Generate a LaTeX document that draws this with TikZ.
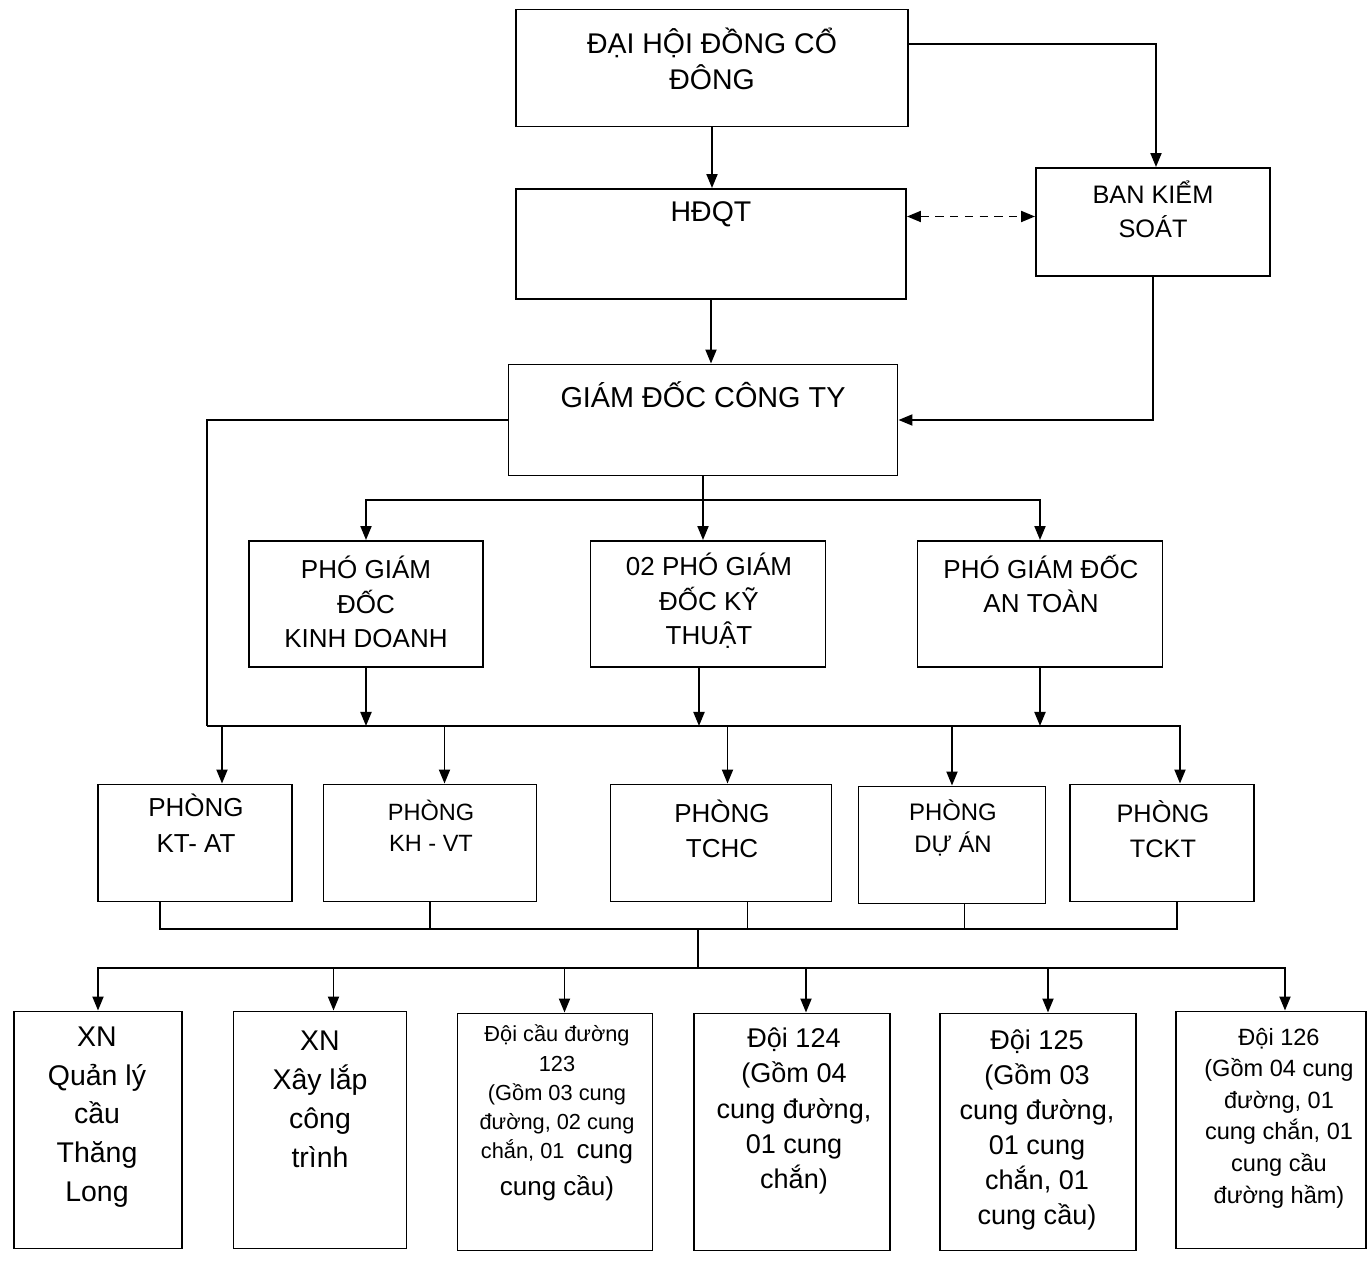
\documentclass[tikz,border=0pt]{standalone}
\usepackage{fontspec}
\setmainfont{Liberation Sans}
\usetikzlibrary{arrows.meta}

\begin{document}
\begin{tikzpicture}[x=0.1mm, y=-0.1mm, line width=0.55pt,
    >={Triangle[length=1.4mm, width=1.1mm]},
    box/.style={draw, inner sep=0pt},
    pgdbox/.style={box, minimum height=1.26cm},
    phongbox/.style={box, minimum height=1.17cm},
    doibox/.style={box, minimum height=2.37cm},
    txt/.style={align=center, inner sep=0pt, font=\fontsize{7.4}{10}\selectfont}]
    \useasboundingbox (0,0) rectangle (1372,1267);

    % cap tren
    \node[box, minimum width=3.92cm, minimum height=1.17cm] (dhdcd) at (712,68) {};
    \node[box, minimum width=3.90cm, minimum height=1.10cm] (hdqt) at (711,244) {};
    \node[box, minimum width=2.34cm, minimum height=1.08cm] (bks) at (1153,222) {};
    \node[box, minimum width=3.89cm, minimum height=1.11cm] (gd) at (703,420) {};

    \node[txt, font=\fontsize{8.1}{10.2}\selectfont] (dhdcdT) at (712,59) {ĐẠI HỘI ĐỒNG CỔ\\ĐÔNG};
    \node[txt, font=\fontsize{8.1}{10.2}\selectfont] (hdqtT) at (711,214) {HĐQT};
    \node[txt, font=\fontsize{7.2}{9.7}\selectfont] (bksT) at (1153,209) {BAN KIỂM\\SOÁT};
    \node[txt, font=\fontsize{8.2}{10.2}\selectfont] (gdT) at (703,395) {GIÁM ĐỐC CÔNG TY};

    % pho giam doc
    \node[pgdbox, minimum width=2.34cm] (pkd) at (366,604) {};
    \node[pgdbox, minimum width=2.35cm] (pkt) at (708,604) {};
    \node[pgdbox, minimum width=2.45cm] (pat) at (1040,604) {};

    \node[txt, font=\fontsize{7.4}{9.8}\selectfont] (pkdT) at (366,602) {PHÓ GIÁM\\ĐỐC\\KINH DOANH};
    \node[txt, font=\fontsize{7.4}{9.8}\selectfont] (pktT) at (709,601) {02 PHÓ GIÁM\\ĐỐC KỸ\\THUẬT};
    \node[txt, font=\fontsize{7.4}{9.8}\selectfont] (patT) at (1041,584) {PHÓ GIÁM ĐỐC\\AN TOÀN};

    % cac phong
    \node[phongbox, minimum width=1.94cm] (ktat) at (195,843) {};
    \node[phongbox, minimum width=2.13cm] (khvt) at (430,843) {};
    \node[phongbox, minimum width=2.21cm] (tchc) at (721,843) {};
    \node[phongbox, minimum width=1.87cm] (dan) at (952,845) {};
    \node[phongbox, minimum width=1.84cm] (tckt) at (1162,843) {};

    \node[txt, font=\fontsize{7.4}{10.2}\selectfont] (ktatT) at (196,823) {PHÒNG\\KT- AT};
    \node[txt, font=\fontsize{6.7}{8.8}\selectfont] (khvtT) at (431,826) {PHÒNG\\KH - VT};
    \node[txt] (tchcT) at (722,829) {PHÒNG\\TCHC};
    \node[txt, font=\fontsize{6.8}{9.1}\selectfont] (danT) at (953,828) {PHÒNG\\DỰ ÁN};
    \node[txt, font=\fontsize{7.2}{10}\selectfont] (tcktT) at (1163,829) {PHÒNG\\TCKT};

    % xi nghiep, doi
    \node[doibox, minimum width=1.68cm] (xnql) at (98,1130) {};
    \node[doibox, minimum width=1.73cm] (xnxl) at (320,1130) {};
    \node[doibox, minimum width=1.95cm] (d123) at (555,1132) {};
    \node[doibox, minimum width=1.96cm] (d124) at (792,1132) {};
    \node[doibox, minimum width=1.96cm] (d125) at (1038,1132) {};
    \node[doibox, minimum width=1.90cm] (d126) at (1271,1130) {};

    \node[txt, font=\fontsize{8.1}{11}\selectfont] (xnqlT) at (97,1117) {XN\\Quản lý\\cầu\\Thăng\\Long};
    \node[txt, font=\fontsize{8.1}{11.1}\selectfont] (xnxlT) at (320,1099) {XN\\Xây lắp\\công\\trình};
    \node[txt, font=\fontsize{6.2}{8.3}\selectfont] (d123T) at (557,1113)
        {Đội cầu đường\\123\\(Gồm 03 cung\\đường, 02 cung\\chắn, 01~ {\fontsize{7.4}{10}\selectfont cung}\\[2.2pt]{\fontsize{7.4}{10}\selectfont cung cầu)}};
    \node[txt, font=\fontsize{7.7}{10}\selectfont] (d124T) at (794,1111) {Đội 124\\(Gồm 04\\cung đường,\\01 cung\\chắn)};
    \node[txt, font=\fontsize{7.7}{10}\selectfont] (d125T) at (1037,1130) {Đội 125\\(Gồm 03\\cung đường,\\01 cung\\chắn, 01\\cung cầu)};
    \node[txt, font=\fontsize{6.7}{9}\selectfont] (d126T) at (1279,1118) {Đội 126\\(Gồm 04 cung\\đường, 01\\cung chắn, 01\\cung cầu\\đường hầm)};

    % diem re nhanh
    \coordinate (bus0) at (703,500);
    \coordinate (bus1) at (207,726);
    \coordinate (bus2) at (698,929);
    \coordinate (bus3) at (698,968);

    \draw[->] (dhdcd.south) -- (dhdcd.south |- hdqt.north);
    \draw[->] ([yshift=2.4mm]dhdcd.east) -| ([xshift=0.3mm]bks.north);
    \draw[<->, dash pattern=on 2.4pt off 1.8pt] ([yshift=2.75mm]hdqt.east) -- ([yshift=2.75mm]hdqt.east -| bks.west);
    \draw[->] (hdqt.south) -- (hdqt.south |- gd.north);
    \draw[->] (bks.south) |- (gd.east);
    \draw (gd.west) -| (bus1);

    \draw[->] (gd.south) -- (gd.south |- pkt.north);
    \draw[->] (bus0) -| (pkd.north);
    \draw[->] (bus0) -| (pat.north);

    \draw[->] (pkd.south) -- (pkd.south |- bus1);
    \draw[->] ([xshift=-0.9mm]pkt.south) -- ([xshift=-0.9mm]pkt.south |- bus1);
    \draw[->] (pat.south) -- (pat.south |- bus1);

    \draw[->] (bus1) -| ([xshift=1.8mm]tckt.north);
    \draw[->] ([xshift=2.7mm]ktat.north |- bus1) -- ([xshift=2.7mm]ktat.north);
    \draw[->] ([xshift=1.45mm]khvt.north |- bus1) -- ([xshift=1.45mm]khvt.north);
    \draw[->] ([xshift=0.65mm]tchc.north |- bus1) -- ([xshift=0.65mm]tchc.north);
    \draw[->] (dan.north |- bus1) -- (dan.north);

    \draw ([xshift=-3.5mm]ktat.south) |- (bus2) -| ([xshift=1.5mm]tckt.south);
    \draw (khvt.south) -- (khvt.south |- bus2);
    \draw ([xshift=2.65mm]tchc.south) -- ([xshift=2.65mm]tchc.south |- bus2);
    \draw ([xshift=1.25mm]dan.south) -- ([xshift=1.25mm]dan.south |- bus2);
    \draw (bus2) -- (bus3);

    \draw[->] (bus3) -| (xnql.north);
    \draw[->] (bus3) -| ([xshift=1.4mm]d126.north);
    \draw[->] ([xshift=1.35mm]xnxl.north |- bus3) -- ([xshift=1.35mm]xnxl.north);
    \draw[->] ([xshift=0.95mm]d123.north |- bus3) -- ([xshift=0.95mm]d123.north);
    \draw[->] ([xshift=1.4mm]d124.north |- bus3) -- ([xshift=1.4mm]d124.north);
    \draw[->] ([xshift=1mm]d125.north |- bus3) -- ([xshift=1mm]d125.north);
\end{tikzpicture}
\end{document}
